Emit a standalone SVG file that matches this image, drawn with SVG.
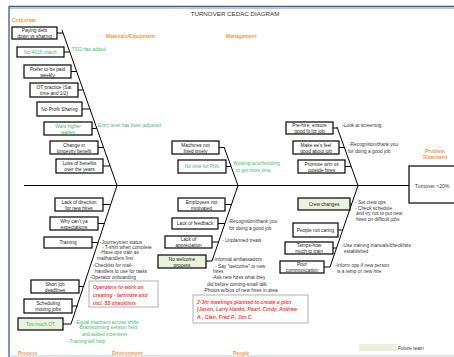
<svg xmlns="http://www.w3.org/2000/svg" width="454" height="357" viewBox="0 0 454 357">
<style>
text{font-family:"Liberation Sans",Arial,sans-serif;font-size:4.8px;fill:#333}
.b rect{fill:#fff;stroke:#000;stroke-width:1.2}
.b text{text-anchor:middle;fill:#222}
.b.g text{fill:#3dbe6b}
.b.f rect{fill:#ebf1de}
.cat{font-weight:bold;fill:#f79646;font-size:5px}
.gt{fill:#3dbe6b}
.rt{fill:#ff3b3b;font-weight:bold;font-style:italic;font-size:5px}
.rb{fill:#fff;stroke:#b0b0b0;stroke-width:1}
#connectors line,#connectors polyline{stroke:#000;stroke-width:1;fill:none}
</style>
<rect width="454" height="357" fill="#fff"/>
<g id="frame">
<line x1="9" y1="6.5" x2="454" y2="6.5" stroke="#3a5a8c" stroke-width="1.6"/>
<line x1="9" y1="8.3" x2="454" y2="8.3" stroke="#8da6c8" stroke-width="0.8"/>
<line x1="9" y1="6" x2="9" y2="357" stroke="#4f6fa8" stroke-width="1.5"/>
<line x1="9" y1="356" x2="454" y2="356" stroke="#b8c8dc" stroke-width="1"/>
</g>
<text x="235" y="15.5" text-anchor="middle" style="font-size:6.2px;fill:#333">TURNOVER CEDAC DIAGRAM</text>
<g id="labels">
<text class="cat" x="12" y="22">Corporate</text>
<text class="cat" x="106" y="38">Materials/Equipment</text>
<text class="cat" x="226" y="38">Management</text>
<text class="cat" x="435" y="152.5" text-anchor="middle">Problem</text>
<text class="cat" x="435" y="158.5" text-anchor="middle">Statement</text>
<text class="cat" x="18" y="355">Process</text>
<text class="cat" x="112" y="355">Environment</text>
<text class="cat" x="233" y="355">People</text>
</g>
<g id="connectors">
<line x1="24" y1="185.5" x2="409" y2="185.5"/>
<line x1="62" y1="30" x2="117" y2="185.5"/>
<line x1="224" y1="147" x2="238" y2="185.5"/>
<line x1="337" y1="127" x2="358" y2="185.5"/>
<line x1="117" y1="185.5" x2="71" y2="324"/>
<line x1="238" y1="185.5" x2="212" y2="261"/>
<line x1="358" y1="185.5" x2="330" y2="267"/>
<line x1="57" y1="33" x2="63" y2="33"/>
<line x1="64" y1="52" x2="69.8" y2="52"/>
<line x1="71" y1="71.5" x2="76.7" y2="71.5"/>
<line x1="78" y1="90" x2="83.2" y2="90"/>
<line x1="82" y1="109" x2="89.9" y2="109"/>
<line x1="92" y1="128.5" x2="96.7" y2="128.5"/>
<line x1="98" y1="147.5" x2="103.5" y2="147.5"/>
<line x1="103" y1="166" x2="110.1" y2="166"/>
<line x1="219" y1="147.5" x2="224.2" y2="147.5"/>
<line x1="226" y1="166.5" x2="231" y2="166.5"/>
<line x1="333" y1="128" x2="337.4" y2="128"/>
<line x1="339" y1="147.5" x2="344.3" y2="147.5"/>
<line x1="345" y1="166.5" x2="351" y2="166.5"/>
<line x1="103" y1="204.5" x2="110.8" y2="204.5"/>
<line x1="98" y1="223.5" x2="104.5" y2="223.5"/>
<line x1="92" y1="242.5" x2="98.2" y2="242.5"/>
<line x1="79" y1="286.5" x2="84.2" y2="286.5"/>
<line x1="72" y1="306" x2="77.7" y2="306"/>
<line x1="63" y1="324" x2="71" y2="324"/>
<line x1="225" y1="204.5" x2="231.6" y2="204.5"/>
<line x1="218" y1="223.5" x2="225" y2="223.5"/>
<line x1="212" y1="242" x2="218.6" y2="242"/>
<line x1="206" y1="261" x2="212" y2="261"/>
<line x1="350" y1="204" x2="351.8" y2="204"/>
<line x1="338" y1="230" x2="342.8" y2="230"/>
<line x1="333" y1="248" x2="336.6" y2="248"/>
<line x1="324" y1="267" x2="330" y2="267"/>
</g>
<g id="n1" class="b"><rect x="12" y="27" width="45" height="12"/><text x="34.5" y="32">Paying debt</text><text x="34.5" y="38">down vs sharing</text></g>
<g id="n2" class="b g"><rect x="17" y="47" width="47" height="10"/><text x="40.5" y="53.7">No 401K match</text></g>
<g id="n3" class="b"><rect x="24" y="65" width="47" height="13"/><text x="47.5" y="70.5">Prefer to be paid</text><text x="47.5" y="76.5">weekly</text></g>
<g id="n4" class="b"><rect x="30" y="83" width="48" height="14"/><text x="54" y="88.7">OT practice (Sat</text><text x="54" y="95">time and 1/2)</text></g>
<g id="n5" class="b"><rect x="37" y="102" width="45" height="14"/><text x="59.5" y="110.7">No Profit Sharing</text></g>
<g id="n6" class="b g"><rect x="44" y="122" width="48" height="13"/><text x="68" y="127.5">Want higher</text><text x="68" y="133.5">wages</text></g>
<g id="n7" class="b"><rect x="50" y="141" width="48" height="13"/><text x="74" y="146.5">Change in</text><text x="74" y="152.5">longevity benefit</text></g>
<g id="n8" class="b"><rect x="56" y="159" width="47" height="14"/><text x="79.5" y="164.7">Loss of benefits</text><text x="79.5" y="171">over the years</text></g>
<g id="n9" class="b"><rect x="172" y="141" width="47" height="13"/><text x="195.5" y="146.5">Machines not</text><text x="195.5" y="152.5">fixed timely</text></g>
<g id="n10" class="b g"><rect x="178" y="160" width="48" height="13"/><text x="202" y="168.2">No time for PMs</text></g>
<g id="n11" class="b"><rect x="286" y="122" width="47" height="12"/><text x="309.5" y="127">Pre-hire, ensure</text><text x="309.5" y="133">good fit for job</text></g>
<g id="n12" class="b"><rect x="293" y="141" width="46" height="13"/><text x="316" y="146.5">Make ee's feel</text><text x="316" y="152.5">good about job</text></g>
<g id="n13" class="b"><rect x="298" y="160" width="47" height="13"/><text x="321.5" y="165.5">Promote w/in vs</text><text x="321.5" y="171.5">outside hires</text></g>
<g id="n14" class="b"><rect x="55" y="198" width="48" height="13"/><text x="79" y="203.5">Lack of direction</text><text x="79" y="209.5">for new hires</text></g>
<g id="n15" class="b"><rect x="50" y="217" width="48" height="13"/><text x="74" y="222.5">Why can't ya</text><text x="74" y="228.5">expectations</text></g>
<g id="n16" class="b"><rect x="44" y="237" width="48" height="11"/><text x="68" y="244.2">Training</text></g>
<g id="n17" class="b"><rect x="31" y="280" width="48" height="13"/><text x="55" y="285.5">Short job</text><text x="55" y="291.5">deadlines</text></g>
<g id="n18" class="b"><rect x="24" y="299" width="48" height="14"/><text x="48" y="304.7">Scheduling</text><text x="48" y="311">moving jobs</text></g>
<g id="n19" class="b g f"><rect x="18" y="318" width="45" height="12"/><text x="40.5" y="325.7">Too much OT</text></g>
<g id="n20" class="b"><rect x="178" y="198" width="47" height="13"/><text x="201.5" y="203.5">Employees not</text><text x="201.5" y="209.5">motivated</text></g>
<g id="n21" class="b"><rect x="172" y="218" width="46" height="11"/><text x="195" y="225.2">Lack of feedback</text></g>
<g id="n22" class="b"><rect x="165" y="236" width="47" height="12"/><text x="188.5" y="241">Lack of</text><text x="188.5" y="247">appreciation</text></g>
<g id="n23" class="b f"><rect x="158" y="255" width="48" height="13"/><text x="182" y="260.5">No welcome</text><text x="182" y="266.5">process</text></g>
<g id="n24" class="b f"><rect x="298" y="198" width="52" height="12"/><text x="324" y="205.7">Crew changes</text></g>
<g id="n25" class="b"><rect x="293" y="223" width="45" height="14"/><text x="315.5" y="231.7">People not caring</text></g>
<g id="n26" class="b"><rect x="285" y="242" width="48" height="12"/><text x="309" y="247">Temps-how</text><text x="309" y="253">much to train</text></g>
<g id="n27" class="b"><rect x="280" y="261" width="44" height="12"/><text x="302" y="266">Poor</text><text x="302" y="272">communication</text></g>
<g id="problem"><rect x="409" y="166" width="60" height="37" fill="#fff" stroke="#000" stroke-width="1.2"/><text x="415" y="187.5" style="font-size:5px">Turnover &gt;20%</text></g>
<g id="notes">
<text class="gt" x="72" y="51">TSG has added</text>
<text class="gt" x="98" y="127">Entry level has been adjusted</text>
<text class="gt" x="233" y="165">Working w/scheduling</text>
<text class="gt" x="236" y="172">to get more time</text>
<text x="342" y="127">-Look at screening</text>
<text x="349" y="146">-Recognition/thank you</text>
<text x="348" y="153">for doing a good job</text>
<text x="100" y="243.5">-Journeymen status</text>
<text x="102" y="249">- T-shirt when complete</text>
<text x="100" y="254">-Have ops train as</text>
<text x="97" y="259.5">mailhandlers first</text>
<text x="93" y="266.5">-Checklist for mail-</text>
<text x="95" y="272.5">handlers to use for tasks</text>
<text x="90" y="278.5">-Operator onboarding</text>
<text class="gt" x="75" y="323.5">-Equal treatment across shifts</text>
<text class="gt" x="78" y="329">-Brainstorming session held</text>
<text class="gt" x="82" y="335.5">and added incentives</text>
<text class="gt" x="68" y="342.5">-Training will help</text>
<text x="228" y="223">-Recognition/thank you</text>
<text x="229" y="230">for doing a good job</text>
<text x="222" y="241.5">-  Unplanned treats</text>
<text x="213" y="261">-Informal ambassadors</text>
<text x="215" y="267.5">- Say "welcome" to new</text>
<text x="213" y="272.5">hires</text>
<text x="212" y="278.5">-Ask new hires what they</text>
<text x="207" y="285.5">did before coming-small talk</text>
<text x="203" y="292">-Photos w/bios of new hires in area</text>
<text x="355" y="204">- Set crew ops</text>
<text x="355" y="209.5">- Check schedule</text>
<text x="356" y="215">and try not to put new</text>
<text x="356" y="221">hires on difficult jobs</text>
<text x="342" y="247">-Use training manuals/checklists</text>
<text x="344" y="253">established</text>
<text x="335" y="267">-Inform ops if new person</text>
<text x="337" y="273">is a temp or new hire</text>
</g>
<g id="plan1"><rect class="rb" x="89" y="281" width="69" height="26"/>
<text class="rt" x="93" y="289">Operators to work on</text>
<text class="rt" x="93" y="297">creating - laminate and</text>
<text class="rt" x="93" y="305">incl. 5S checklists</text></g>
<g id="plan2"><rect class="rb" x="193" y="295" width="115" height="28"/>
<text class="rt" x="197" y="304">2-3hr meetings planned to create a plan</text>
<text class="rt" x="197" y="311">(Jason, Larry Hanks, Pearl, Cindy, Andrew</text>
<text class="rt" x="197" y="319">A., Glen, Fred P., Jim C.</text></g>
<g id="legend"><rect x="359" y="344" width="38" height="7" fill="#ebf1de"/><text x="398" y="350">Future team</text></g>
</svg>
